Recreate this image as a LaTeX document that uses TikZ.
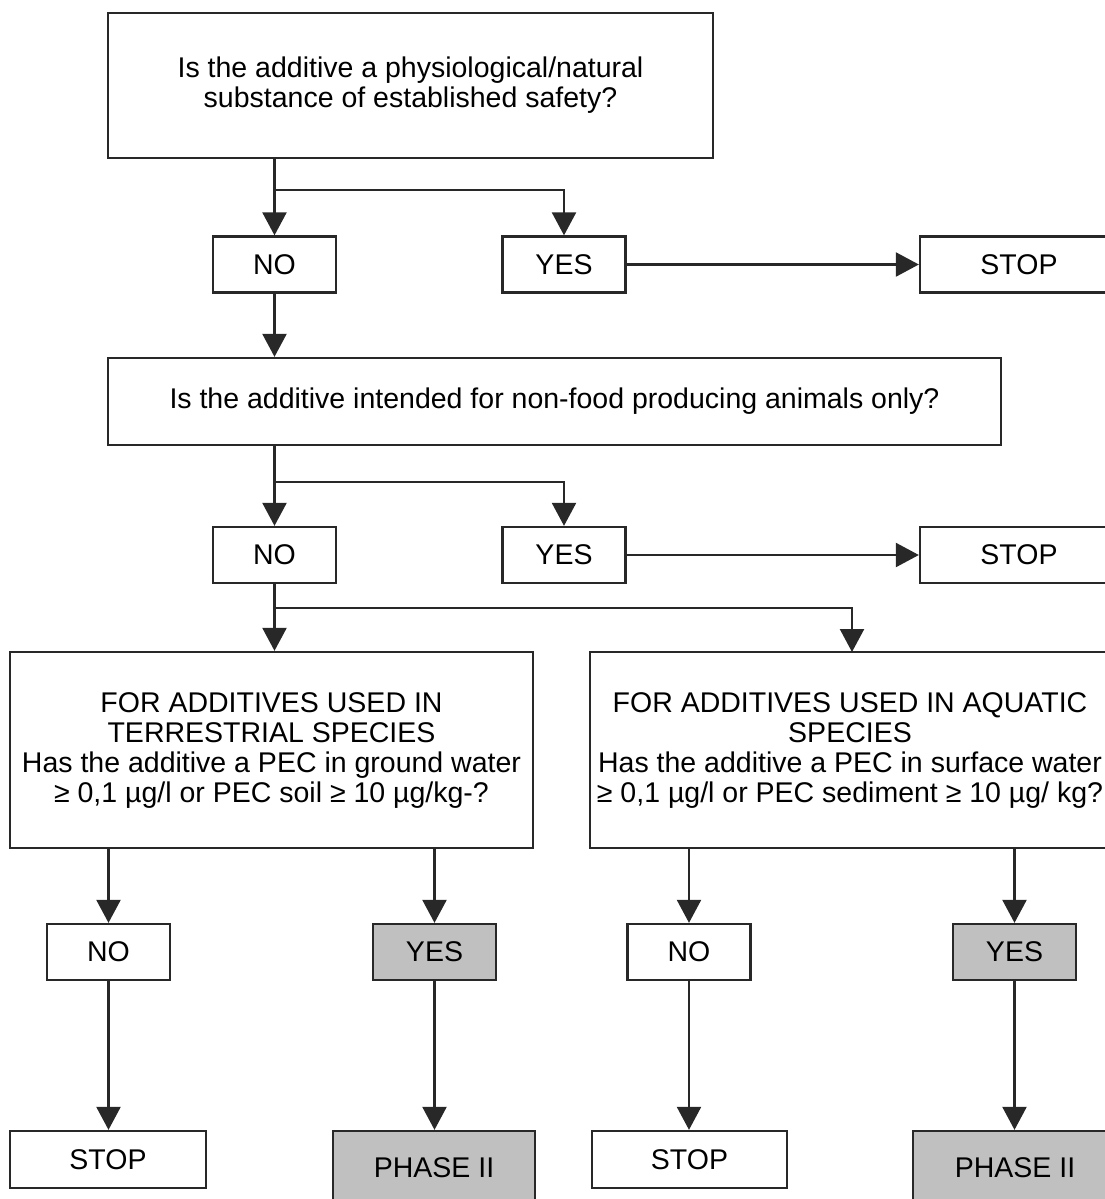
\documentclass[tikz,border=0pt]{standalone}
\usepackage{fontspec}
\setmainfont{Liberation Sans}
\usetikzlibrary{arrows.meta}
\definecolor{linecol}{RGB}{40,40,40}
\definecolor{fillgray}{RGB}{192,192,192}
\begin{document}
\begin{tikzpicture}[x=1pt,y=-1pt,
 box/.style={draw=linecol, line width=2.3pt, rectangle, inner sep=0pt, align=center,
   font=\fontsize{28.5}{30}\selectfont, text=black},
 greybox/.style={box, fill=fillgray},
 small/.style={minimum width=123pt, minimum height=56pt},
 arr/.style={draw=linecol, line width=2.3pt, -{Triangle[width=24pt,length=23pt]}},
 ln/.style={draw=linecol, line width=2.3pt}]
\useasboundingbox (0,0) rectangle (1105,1199);
\clip (0,0) rectangle (1105,1199);
% level 1
\node[box, minimum width=605pt, minimum height=145pt] (q1) at (410.5,85.5)
  {Is the additive a physiological/natural\\substance of established safety?};
\node[box, small] (no1) at (274.5,264.5) {NO};
\node[box, small] (yes1) at (564,264.5) {YES};
\node[box, minimum width=198pt, minimum height=56pt] (stop1) at (1019,264.5) {STOP};
\coordinate (b1) at (274.5,190);
\draw[arr] (q1.south -| no1.north) -- (no1.north);
\draw[arr] (b1) -| (yes1.north);
\draw[arr] (yes1.east) -- (stop1.west);
% level 2
\node[box, minimum width=893pt, minimum height=87pt] (q2) at (554.5,401.5)
  {Is the additive intended for non-food producing animals only?};
\draw[arr] (no1.south) -- (q2.north -| no1.south);
\node[box, small] (no2) at (274.5,555) {NO};
\node[box, small] (yes2) at (564,555) {YES};
\node[box, minimum width=198pt, minimum height=56pt] (stop2) at (1019,555) {STOP};
\coordinate (b2) at (274.5,482);
\draw[arr] (q2.south -| no2.north) -- (no2.north);
\draw[arr] (b2) -| (yes2.north);
\draw[arr] (yes2.east) -- (stop2.west);
% level 3
\node[box, minimum width=523pt, minimum height=196pt] (q3) at (271.5,750)
  {FOR ADDITIVES USED IN\\TERRESTRIAL SPECIES\\Has the additive a PEC in ground water\\≥ 0,1 µg/l or PEC soil ≥ 10 µg/kg-?};
\node[box, minimum width=520pt, minimum height=196pt] (q4) at (850,750)
  {FOR ADDITIVES USED IN AQUATIC\\SPECIES\\Has the additive a PEC in surface water\\≥ 0,1 µg/l or PEC sediment ≥ 10 µg/ kg?};
\coordinate (b3) at (274.5,608);
\draw[arr] (no2.south) -- (q3.north -| no2.south);
\draw[arr] (b3) -| (852,652);
% level 4
\node[box, small] (no3) at (108.5,952) {NO};
\node[greybox, small] (yes3) at (434.5,952) {YES};
\node[box, small] (no4) at (689,952) {NO};
\node[greybox, small] (yes4) at (1014.5,952) {YES};
\draw[arr] (q3.south -| no3.north) -- (no3.north);
\draw[arr] (q3.south -| yes3.north) -- (yes3.north);
\draw[arr] (q4.south -| no4.north) -- (no4.north);
\draw[arr] (q4.south -| yes4.north) -- (yes4.north);
% level 5
\node[box, minimum width=196pt, minimum height=57pt] (stop3) at (108,1159.5) {STOP};
\node[greybox, minimum width=202pt, minimum height=74pt] (ph3) at (434,1168) {PHASE II};
\node[box, minimum width=195pt, minimum height=57pt] (stop4) at (689.5,1159.5) {STOP};
\node[greybox, minimum width=204pt, minimum height=74pt] (ph4) at (1015,1168) {PHASE II};
\draw[arr] (no3.south) -- (stop3.north -| no3.south);
\draw[arr] (yes3.south) -- (ph3.north -| yes3.south);
\draw[arr] (no4.south) -- (stop4.north -| no4.south);
\draw[arr] (yes4.south) -- (ph4.north -| yes4.south);
\end{tikzpicture}
\end{document}
